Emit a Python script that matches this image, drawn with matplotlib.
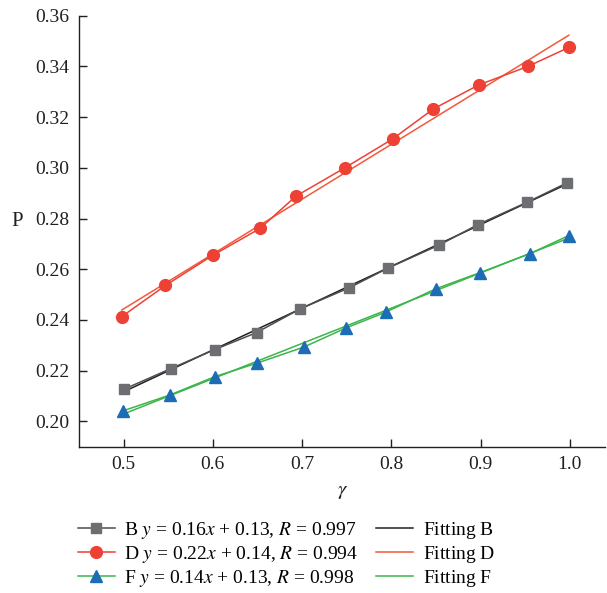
import numpy as np
import matplotlib
matplotlib.use("Agg")
import matplotlib.pyplot as plt

plt.rcParams['font.family'] = ['Liberation Serif', 'DejaVu Serif']
plt.rcParams['mathtext.fontset'] = 'stix'

# values
x_b = [0.500, 0.553, 0.602, 0.649, 0.698, 0.753, 0.796, 0.854, 0.897, 0.952, 0.997]
p_b = [0.2126, 0.2208, 0.2283, 0.2350, 0.2444, 0.2527, 0.2604, 0.2696, 0.2776, 0.2864, 0.2941]

x_d = [0.498, 0.547, 0.600, 0.653, 0.693, 0.748, 0.802, 0.847, 0.898, 0.953, 0.999]
p_d = [0.2413, 0.2536, 0.2655, 0.2761, 0.2888, 0.3000, 0.3115, 0.3232, 0.3327, 0.3400, 0.3475]

x_f = [0.499, 0.552, 0.602, 0.649, 0.702, 0.749, 0.794, 0.850, 0.899, 0.955, 0.999]
p_f = [0.2041, 0.2104, 0.2176, 0.2229, 0.2293, 0.2368, 0.2431, 0.2523, 0.2586, 0.2661, 0.2733]

labels = ['B $y$ = 0.16$x$ + 0.13, $R$ = 0.997',
          'D $y$ = 0.22$x$ + 0.14, $R$ = 0.994',
          'F $y$ = 0.14$x$ + 0.13, $R$ = 0.998']
# the empty math bit keeps the row heights equal to the left column
fit_labels = [r'Fitting B$\,$', r'Fitting D$\,$', r'Fitting F$\,$']

fig = plt.figure(figsize=(6.07, 5.93), dpi=100)
ax = fig.add_axes([0.130, 0.2467, 0.8675, 0.7268])

series = [
    (x_b, p_b, 's', '#6d6e71', '#4d4d4f', '#231f20', 7),
    (x_d, p_d, 'o', '#ee4136', '#ee4136', '#f15a3a', 8.5),
    (x_f, p_f, '^', '#1c6db5', '#3cb54a', '#3cb54a', 9),
]

data_handles = []
fit_handles = []
for (xs, ps, mk, mcol, lcol, fcol, ms), lab, flab in zip(series, labels, fit_labels):
    xs = np.array(xs)
    ps = np.array(ps)
    # fitted straight line from the points
    k, b = np.polyfit(xs, ps, 1)
    fl, = ax.plot(xs, k * xs + b, color=fcol, lw=1.1, label=flab, zorder=2)
    dl, = ax.plot(xs, ps, color=lcol, lw=1.1, marker=mk, markersize=ms,
                  markerfacecolor=mcol, markeredgecolor=mcol, label=lab, zorder=3)
    data_handles.append(dl)
    fit_handles.append(fl)

ax.set_xlim(0.45, 1.04)
ax.set_ylim(0.19, 0.36)
ax.set_xticks([0.5, 0.6, 0.7, 0.8, 0.9, 1.0])
ax.set_xticklabels(['0.5', '0.6', '0.7', '0.8', '0.9', '1.0'])
ax.set_yticks([0.20, 0.22, 0.24, 0.26, 0.28, 0.30, 0.32, 0.34, 0.36])
ax.set_yticklabels(['%.2f' % v for v in ax.get_yticks()])

ax.spines['top'].set_visible(False)
ax.spines['right'].set_visible(False)
for s in ['left', 'bottom']:
    ax.spines[s].set_color('#231f20')
    ax.spines[s].set_linewidth(1.0)
ax.tick_params(direction='in', length=6, width=1.0, color='#231f20',
               labelsize=14, labelcolor='#231f20')
ax.tick_params(axis='x', pad=7)
ax.tick_params(axis='y', pad=7)

ax.set_ylabel('P', rotation=0, fontsize=15, color='#231f20')
ax.yaxis.set_label_coords(-0.118, 0.5)
ax.set_xlabel(r'$\gamma$', fontsize=15, color='#231f20')
ax.xaxis.set_label_coords(0.5, -0.081)

fig.legend(data_handles + fit_handles, labels + fit_labels,
           loc='upper left', bbox_to_anchor=(0.128, 0.123), ncol=2,
           frameon=False, fontsize=14, handlelength=1.9, handletextpad=0.5,
           columnspacing=0.9, labelspacing=0.15, borderpad=0, borderaxespad=0)

fig.savefig('out.png', dpi=100)
